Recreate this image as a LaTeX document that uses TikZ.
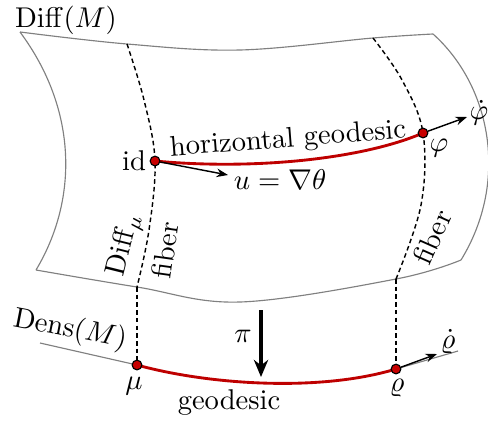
\documentclass[tikz,border=0pt]{standalone}
\usetikzlibrary{arrows.meta}
\definecolor{geored}{RGB}{190,0,0}
\definecolor{dotred}{RGB}{200,0,0}
\begin{document}
\begin{tikzpicture}[x=0.35pt,y=-0.35pt,
  edge/.style={draw=black!50, line width=0.4pt},
  fiberline/.style={draw=black, dash pattern=on 1.6pt off 1.1pt, line width=0.5pt},
  geo/.style={draw=geored, line width=1pt},
  dot/.style={circle, fill=dotred, draw=black, line width=0.4pt, inner sep=0pt, minimum size=3.4pt},
  vec/.style={draw=black, line width=0.5pt, -{Stealth[length=4pt,width=3pt]}},
  proj/.style={draw=black, line width=1.4pt, -{Stealth[length=6pt,width=5pt]}},
  lbl/.style={inner sep=0pt, outer sep=0pt}]
\useasboundingbox (0,0) rectangle (488,422);
\coordinate (tl) at (20,32);
\coordinate (tr) at (433,34);
\coordinate (br) at (461,260);
\coordinate (bl) at (36,270);
\coordinate (f1top) at (127,44);
\coordinate (f2top) at (373,38);
\coordinate (f1bot) at (137,287);
\coordinate (f2bot) at (396,279);
\coordinate (pid) at (155,161);
\coordinate (pphi) at (423,133);
\coordinate (pmu) at (137,365);
\coordinate (prho) at (396,369);
\coordinate (densL) at (40,343);
\coordinate (densR) at (458,351);
\coordinate (uend) at (228,175);
\coordinate (phidotend) at (467,117);
\coordinate (rhodotend) at (437,354);
\coordinate (pitop) at (261,310);
\coordinate (pibot) at (261,377);
% surface outline
\draw[edge] plot[smooth, tension=0.6] coordinates {(tl) (f1top) (240,50) (f2top) (tr)};
\draw[edge] (tl) .. controls (78,110) and (78,200) .. (bl);
\draw[edge] plot[smooth, tension=0.6] coordinates {(bl) (f1bot) (240,302) (f2bot) (br)};
\draw[edge] (tr) .. controls (490,85) and (510,180) .. (br);
% fibers
\draw[fiberline] plot[smooth, tension=0.6] coordinates {(f1top) (144,100) (pid) (149,230) (f1bot)};
\draw[fiberline] (f1bot) -- (pmu);
\draw[fiberline] plot[smooth, tension=0.6] coordinates {(f2top) (402,80) (pphi) (421,205) (f2bot)};
\draw[fiberline] (f2bot) -- (prho);
% base curve
\draw[edge] (densL) -- (pmu);
\draw[edge] (prho) -- (densR);
% geodesics
\draw[geo] (pid) .. controls (250,170) and (360,160) .. (pphi);
\draw[geo] (pmu) .. controls (210,385) and (320,392) .. (prho);
% dots
\node[dot] (id) at (pid) {};
\node[dot] (phi) at (pphi) {};
\node[dot] (mu) at (pmu) {};
\node[dot] (rho) at (prho) {};
% vectors
\draw[vec] (id) -- (uend);
\draw[vec] (phi) -- (phidotend);
\draw[vec] (rho) -- (rhodotend);
\draw[proj] (pitop) -- (pibot);
% labels
\node[lbl] (ldiff) at (66,20) {$\mathrm{Diff}(M)$};
\node[lbl] (lid) at (134,161) {id};
\node[lbl, rotate=4.5] (lhg) at (288,140) {horizontal geodesic};
\node[lbl] (lu) at (280,180) {$u=\nabla\theta$};
\node[lbl] (lphi) at (439,148) {$\varphi$};
\node[lbl] (lphidot) at (479,113) {$\dot\varphi$};
\node[lbl] (lmu) at (134,386) {$\mu$};
\node[lbl] (lrho) at (397,388) {$\varrho$};
\node[lbl] (lrhodot) at (448,342) {$\dot\varrho$};
\node[lbl] (lgeo) at (229,403) {geodesic};
\node[lbl] (lpi) at (243,336) {$\pi$};
\node[lbl, rotate=-11] (ldens) at (70,330) {$\mathrm{Dens}(M)$};
\node[lbl, rotate=76] (ldiffmu) at (125,245) {$\mathrm{Diff}_\mu$};
\node[lbl, rotate=82] (lfib1) at (165,250) {fiber};
\node[lbl, rotate=66] (lfib2) at (432,237) {fiber};
\end{tikzpicture}
\end{document}
